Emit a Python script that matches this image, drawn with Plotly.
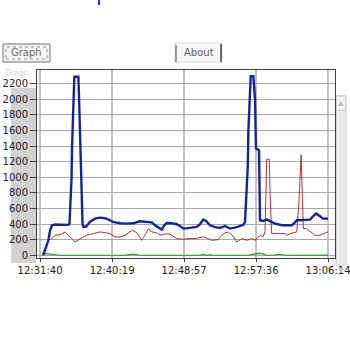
import pandas as pd
import plotly.graph_objects as go

# ---- data (elapsed seconds from 12:31:40, values) ----
start_time = "2024-01-01 12:31:40"

blue_sec = [22, 43, 60, 72, 86, 108, 144, 202, 212, 220, 227, 230, 236, 241, 247, 276, 281, 286, 292, 295,
            300, 306, 312, 331, 360, 396, 432, 468, 504, 526, 552, 576, 624, 670, 720, 763, 804, 828, 850,
            876, 893, 912, 951, 984, 1008, 1032, 1051, 1080, 1128, 1152, 1176, 1195, 1224, 1260, 1296, 1332,
            1368, 1417, 1464, 1476, 1488, 1496, 1500, 1507, 1517, 1536, 1548, 1555, 1577, 1584, 1606, 1633,
            1656, 1692, 1741, 1772, 1813, 1829, 1849, 1894, 1944, 1966, 1988, 2016, 2038, 2074]
blue_val = [0, 100, 192, 320, 385, 395, 390, 390, 400, 700, 1000, 1370, 1600, 1965, 2290, 2290, 2000, 1650,
            1370, 1000, 700, 400, 365, 365, 430, 470, 483, 475, 449, 427, 418, 410, 406, 410, 436, 430, 422,
            385, 360, 329, 380, 414, 410, 398, 376, 342, 345, 350, 363, 400, 457, 440, 385, 360, 350, 376,
            342, 360, 390, 430, 812, 1145, 1580, 2008, 2295, 2295, 2000, 1368, 1346, 449, 440, 457,
            440, 406, 385, 385, 385, 410, 449, 452, 457, 500, 534, 500, 470, 470]

red_sec = [22, 43, 60, 79, 108, 144, 180, 216, 238, 252, 288, 336, 384, 432, 468, 504, 540, 576, 612, 648,
           665, 696, 732, 756, 780, 807, 843, 864, 907, 936, 984, 1032, 1066, 1116, 1176, 1210, 1236, 1282,
           1320, 1356, 1383, 1417, 1453, 1488, 1525, 1548, 1584, 1606, 1620, 1627, 1632, 1651, 1656, 1668,
           1764, 1779, 1800, 1849, 1865, 1880, 1887, 1896, 1920, 1952, 1980, 2016, 2064, 2074]
red_val = [0, 110, 200, 205, 256, 263, 299, 235, 200, 171, 213, 256, 278, 299, 290, 278, 235, 235, 256, 299,
           320, 290, 192, 260, 342, 300, 285, 260, 275, 270, 214, 205, 214, 214, 235, 214, 192, 200,
           278, 299, 260, 171, 214, 192, 214, 192, 256, 240, 300, 800, 1231, 1231, 800, 278,
           278, 256, 278, 300, 700, 1290, 900, 342, 342, 300, 256, 256, 299, 300]

green_sec = [22, 43, 72, 108, 144, 612, 648, 684, 720, 1152, 1176, 1200, 1224, 1240, 1500, 1540, 1570,
             1600, 1630, 1690, 1700, 1740, 1760, 2074]
green_val = [10, 20, 15, 3, 0, 0, 12, 12, 0, 0, 10, 0, 8, 0, 0, 15, 25, 20, 0, 0, 10, 10, 0, 3]

x_tick_labels = ["12:31:40", "12:40:19", "12:48:57", "12:57:36", "13:06:14"]
y_tick_vals = [0, 200, 400, 600, 800, 1000, 1200, 1400, 1600, 1800, 2000, 2200]

# ---- build ----
base = pd.Timestamp(start_time)
def to_time(secs):
    return [base + pd.Timedelta(seconds=s) for s in secs]

tickvals = [pd.Timestamp("2024-01-01 " + t) for t in x_tick_labels]

fig = go.Figure()
fig.add_trace(go.Scatter(x=to_time(green_sec), y=green_val, mode="lines",
                         line=dict(color="#22a022", width=1.2), hoverinfo="skip"))
fig.add_trace(go.Scatter(x=to_time(red_sec), y=red_val, mode="lines",
                         line=dict(color="#b83030", width=1.0), hoverinfo="skip"))
fig.add_trace(go.Scatter(x=to_time(blue_sec), y=blue_val, mode="lines",
                         line=dict(color="#1424a0", width=2.4), hoverinfo="skip"))

# pixel geometry helpers (layout only)
L, R, T, B = 37, 335, 70, 258
W, H = 350, 351
def px(x):
    return (x - L) / (R - L)
def py(y):
    return (B - y) / (B - T)
def tri(pts):
    return "M " + " L ".join(f"{px(a)},{py(b)}" for a, b in pts) + " Z"

shapes = []
# gray panel behind y tick labels (pixel-sized, anchored at the plot's left edge)
shapes.append(dict(type="rect", xref="paper", yref="paper", xsizemode="pixel", xanchor=0,
                   x0=11 - L, x1=36 - L, y0=py(263), y1=py(88),
                   fillcolor="#d2d2d2", line=dict(width=0), layer="below"))
# scrollbar
shapes.append(dict(type="rect", xref="paper", yref="paper", x0=px(336), x1=px(346), y0=py(266), y1=py(96),
                   fillcolor="#ececec", line=dict(color="#d0d0d0", width=1), layer="below"))
shapes.append(dict(type="rect", xref="paper", yref="paper", x0=px(336), x1=px(346), y0=py(110), y1=py(96),
                   fillcolor="#f4f4f4", line=dict(color="#c8c8c8", width=1), layer="below"))
shapes.append(dict(type="path", xref="paper", yref="paper", path=tri([(338, 106), (344, 106), (341, 101)]),
                   fillcolor="#c0c0c0", line=dict(width=0)))
shapes.append(dict(type="path", xref="paper", yref="paper", path=tri([(338, 268), (344, 268), (341, 273)]),
                   fillcolor="#c0c0c0", line=dict(width=0)))
# buttons
shapes.append(dict(type="rect", xref="paper", yref="paper", x0=px(3), x1=px(50), y0=py(62), y1=py(44),
                   fillcolor="#f4f4f4", line=dict(color="#707070", width=1)))
shapes.append(dict(type="rect", xref="paper", yref="paper", x0=px(6), x1=px(47), y0=py(59), y1=py(47),
                   fillcolor="rgba(0,0,0,0)", line=dict(color="#909090", width=1, dash="dot")))
shapes.append(dict(type="rect", xref="paper", yref="paper", x0=px(175), x1=px(222), y0=py(62), y1=py(43),
                   fillcolor="#f8f8f8", line=dict(color="#d8d8d8", width=1)))
shapes.append(dict(type="line", xref="paper", yref="paper", x0=px(221), x1=px(221), y0=py(62), y1=py(44),
                   line=dict(color="#404040", width=1.5)))
shapes.append(dict(type="line", xref="paper", yref="paper", x0=px(176), x1=px(176), y0=py(62), y1=py(45),
                   line=dict(color="#404040", width=1)))
# tiny blue mark at top
shapes.append(dict(type="line", xref="paper", yref="paper", x0=px(99), x1=px(99), y0=py(5), y1=py(0),
                   line=dict(color="#2030c0", width=2)))

annotations = [
    dict(text="Graph", xref="paper", yref="paper", x=px(26.5), y=py(53), xanchor="center", yanchor="middle",
         showarrow=False, font=dict(family="DejaVu Sans", size=10, color="#707070")),
    dict(text="About", xref="paper", yref="paper", x=px(198.5), y=py(53), xanchor="center", yanchor="middle",
         showarrow=False, font=dict(family="DejaVu Sans", size=10, color="#606060")),
    dict(text="Diagr", xref="paper", yref="paper", x=px(3), y=py(73), xanchor="left", yanchor="middle",
         showarrow=False, font=dict(family="DejaVu Sans", size=8, color="#d8d8d8")),
]

fig.update_layout(
    width=W, height=H,
    margin=dict(l=L, r=W - R, t=T, b=H - B, pad=0, autoexpand=False),
    paper_bgcolor="white", plot_bgcolor="white",
    showlegend=False,
    shapes=shapes, annotations=annotations,
    font=dict(family="DejaVu Sans", size=10, color="#222222"),
)
fig.update_xaxes(
    type="date", automargin=False,
    range=[base + pd.Timedelta(seconds=-22), base + pd.Timedelta(seconds=2124)],
    tickvals=tickvals, ticktext=x_tick_labels, ticklabeloverflow="allow",
    showgrid=True, gridcolor="#c4c4c4", gridwidth=2,
    showline=True, linecolor="#404040", linewidth=1, mirror=True,
    ticks="outside", ticklen=3, tickcolor="#404040",
    tickfont=dict(family="DejaVu Sans", size=10, color="#222222"),
    zeroline=False,
)
fig.update_yaxes(
    automargin=False,
    range=[-35, 2376],
    tickvals=y_tick_vals, ticktext=[str(v) for v in y_tick_vals], ticklabeloverflow="allow",
    showgrid=True, gridcolor="#a8a8a8", gridwidth=1,
    showline=True, linecolor="#404040", linewidth=1, mirror=True,
    ticks="outside", ticklen=6, tickcolor="#404040",
    tickfont=dict(family="DejaVu Sans", size=10, color="#222222"),
    zeroline=False,
)

fig.write_html("out.html")
